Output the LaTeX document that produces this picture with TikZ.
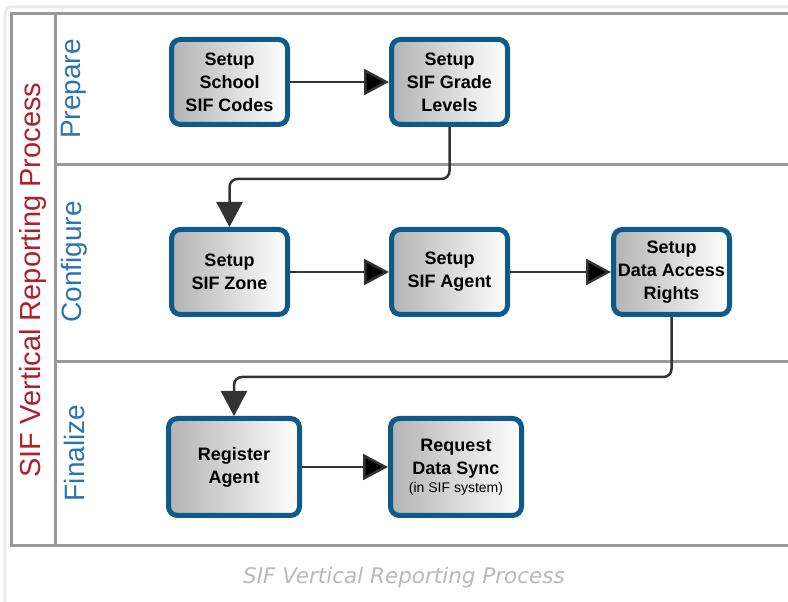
\documentclass[tikz,border=0pt]{standalone}
\usepackage{fontspec}
\setmainfont{Liberation Sans}
\newfontfamily\capfont{DejaVu Sans}
\usetikzlibrary{positioning,arrows.meta}

\definecolor{boxblue}{HTML}{0D5A8C}
\definecolor{titlered}{HTML}{B0202A}
\definecolor{laneblue}{HTML}{2C74AE}
\definecolor{linegray}{HTML}{999999}
\definecolor{arrowgray}{HTML}{333333}

\begin{document}
\begin{tikzpicture}[x=1pt,y=1pt,>={Triangle[length=25pt,width=26pt]},node distance=190pt and 220pt,on grid,
    task/.style={rectangle,rounded corners=9pt,draw=boxblue,line width=5pt,left color=gray!60,right color=white,
      minimum width=116pt,minimum height=85pt,inner sep=0pt,align=center,font=\bfseries\fontsize{18}{23}\selectfont},
    bigtask/.style={task,minimum width=131pt,minimum height=97pt},
    flow/.style={->,draw=arrowgray,line width=2.5pt,rounded corners=8pt},
    frame/.style={draw=linegray,line width=3pt},
    lanelabel/.style={rotate=90,text=laneblue,font=\fontsize{28}{32}\selectfont}]
    \useasboundingbox (0,0) rectangle (788,602);

    % page border and lanes
    \draw[gray!15,line width=3pt,rounded corners=6pt] (788,595) -- (5,595) -- (5,0);
    \draw[frame] (788,588) -- (11,588) -- (11,56) -- (788,56);
    \draw[frame] (55,588) -- (55,56);
    \draw[frame] (55,437) -- (788,437);
    \draw[frame] (55,240) -- (788,240);

    \node[rotate=90,text=titlered,font=\fontsize{29}{32}\selectfont] (title) at (33,322) {SIF Vertical Reporting Process};
    \node[lanelabel] (prepare) at (74,513) {Prepare};
    \node[lanelabel] (configure) at (74,340) {Configure};
    \node[lanelabel] (finalize) at (74,149) {Finalize};

    \node[task] (codes) at (229.5,520) {Setup\\School\\SIF Codes};
    \node[task] (grades) [right=of codes] {Setup\\SIF Grade\\Levels};
    \node[task] (zone) [below=of codes] {Setup\\SIF Zone};
    \node[task] (agent) [right=of zone] {Setup\\SIF Agent};
    \node[task] (rights) [right=222pt of agent] {Setup\\Data Access\\Rights};
    \node[bigtask] (register) at (234,135) {Register\\Agent};
    \node[bigtask] (sync) [right=222pt of register] {Request\\Data Sync\\[-5pt]{\mdseries\fontsize{14}{16}\selectfont (in SIF system)}};

    \path[flow]
    (codes) edge (grades)
    (zone) edge (agent)
    (agent) edge (rights)
    (register) edge (sync);

    \draw[flow] (grades.south) -- ++(0,-52) -| (zone.north);
    \draw[flow] (rights.south) -- ++(0,-60) -| (register.north);

    \node[text=gray!55,font=\capfont\itshape\fontsize{21.5}{24}\selectfont] (caption) at (404,24) {SIF Vertical Reporting Process};
\end{tikzpicture}
\end{document}
